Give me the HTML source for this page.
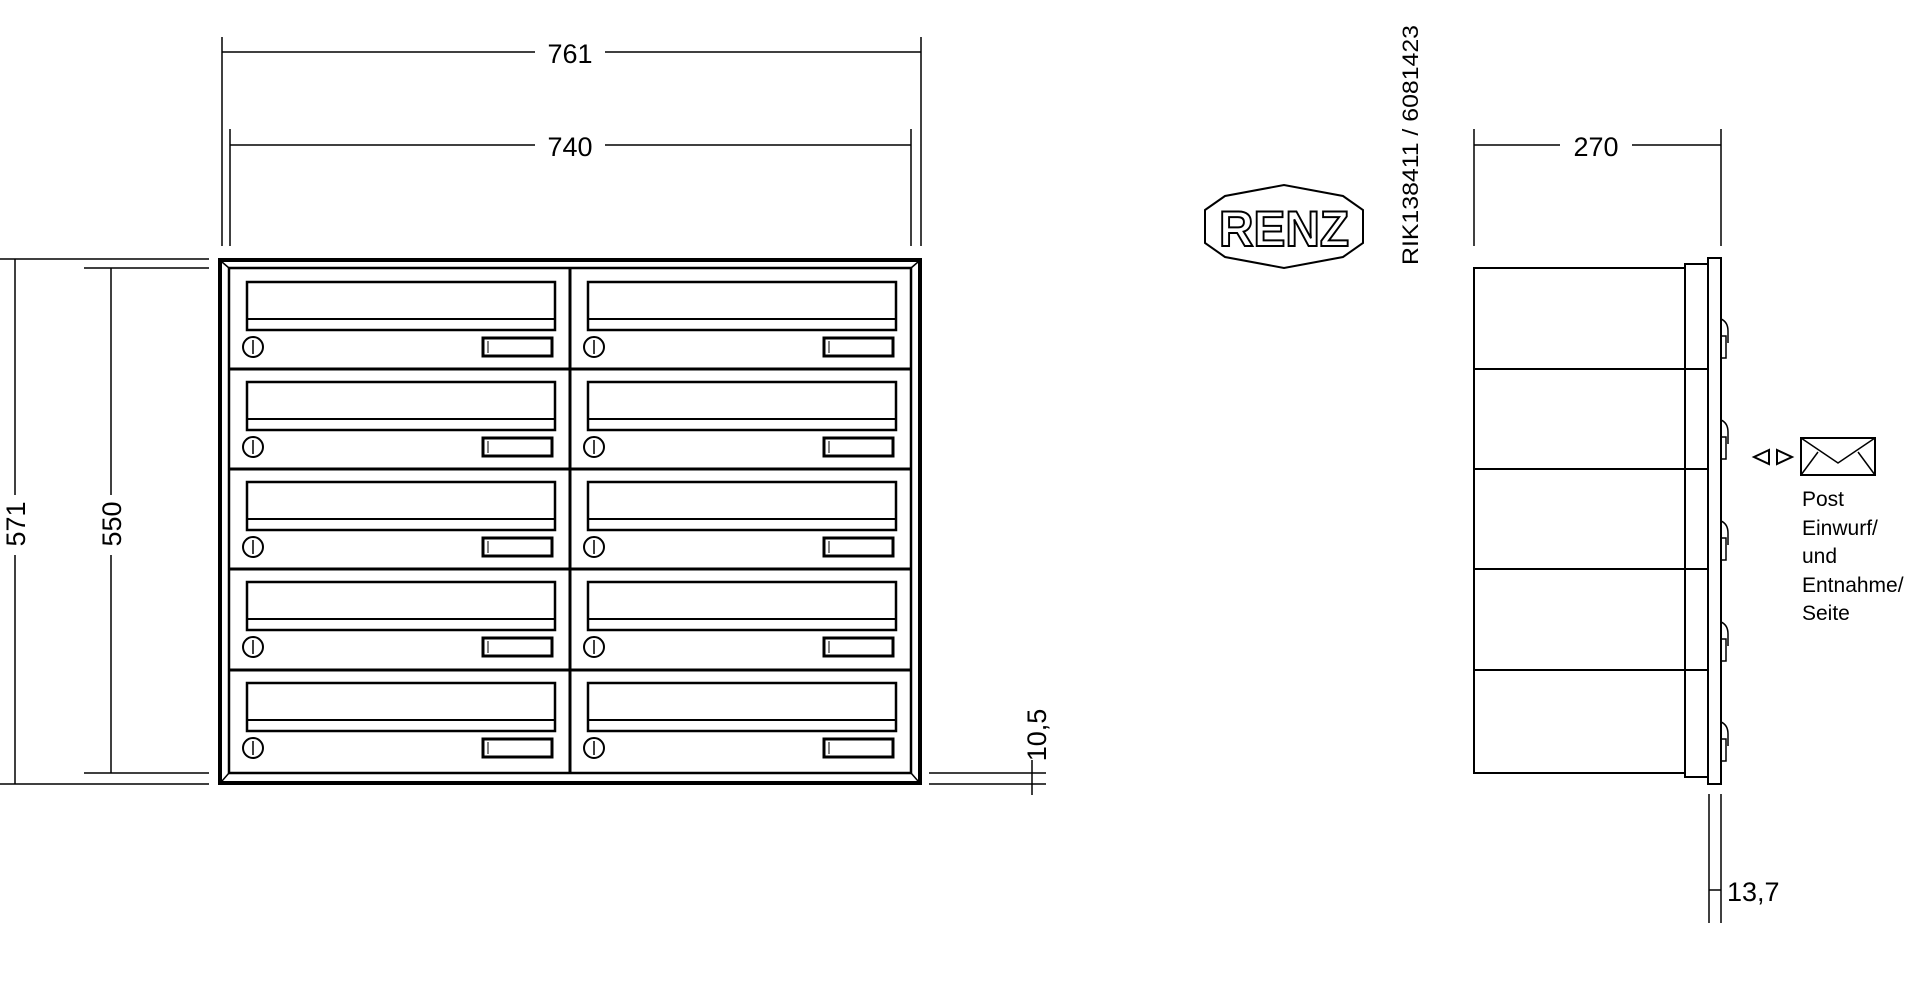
<!DOCTYPE html>
<html><head><meta charset="utf-8"><style>html,body{margin:0;padding:0;background:#fff}svg{display:block}</style></head><body>
<svg width="1930" height="990" viewBox="0 0 1930 990" xmlns="http://www.w3.org/2000/svg" font-family="Liberation Sans, sans-serif">
<g stroke="#000" fill="none" stroke-width="1.5">
<line x1="222" y1="37" x2="222" y2="246"/><line x1="921" y1="37" x2="921" y2="246"/>
<line x1="222" y1="52" x2="535" y2="52"/><line x1="605" y1="52" x2="921" y2="52"/>
<line x1="230" y1="129" x2="230" y2="246"/><line x1="911" y1="129" x2="911" y2="246"/>
<line x1="230" y1="145" x2="535" y2="145"/><line x1="605" y1="145" x2="911" y2="145"/>
<line x1="0" y1="259" x2="209" y2="259"/><line x1="0" y1="784" x2="209" y2="784"/>
<line x1="15" y1="259" x2="15" y2="495"/><line x1="15" y1="555" x2="15" y2="784"/>
<line x1="84" y1="268" x2="209" y2="268"/><line x1="84" y1="773" x2="209" y2="773"/>
<line x1="111" y1="268" x2="111" y2="495"/><line x1="111" y1="555" x2="111" y2="773"/>
<line x1="929" y1="773" x2="1046" y2="773"/><line x1="929" y1="784" x2="1046" y2="784"/>
<line x1="1032" y1="760" x2="1032" y2="795"/>
<line x1="1474" y1="129" x2="1474" y2="246"/><line x1="1721" y1="129" x2="1721" y2="246"/>
<line x1="1474" y1="145" x2="1560" y2="145"/><line x1="1632" y1="145" x2="1721" y2="145"/>
<line x1="1709" y1="794" x2="1709" y2="923"/><line x1="1721" y1="794" x2="1721" y2="923"/>
<line x1="1709" y1="890" x2="1721" y2="890"/>
</g>
<g fill="#000" font-size="27">
<text x="570" y="63" text-anchor="middle">761</text>
<text x="570" y="156" text-anchor="middle">740</text>
<text x="1596" y="156" text-anchor="middle">270</text>
<text transform="translate(25,524) rotate(-90)" text-anchor="middle">571</text>
<text transform="translate(121,524) rotate(-90)" text-anchor="middle">550</text>
<text transform="translate(1046,735) rotate(-90)" text-anchor="middle">10,5</text>
<text x="1727" y="901">13,7</text>
<text transform="translate(1418,145) rotate(-90)" text-anchor="middle" font-size="22" textLength="240" lengthAdjust="spacingAndGlyphs">RIK138411 / 6081423</text>
</g>
<g stroke="#000" fill="none">
<rect x="220" y="260" width="700" height="523" stroke-width="4"/>
<rect x="229" y="268" width="682" height="505" stroke-width="2.5"/>
<line x1="222" y1="262" x2="229" y2="268" stroke-width="1.5"/><line x1="918" y1="262" x2="911" y2="268" stroke-width="1.5"/>
<line x1="222" y1="781" x2="229" y2="773" stroke-width="1.5"/><line x1="918" y1="781" x2="911" y2="773" stroke-width="1.5"/>
<line x1="570" y1="268" x2="570" y2="773" stroke-width="3"/>
<line x1="229" y1="369" x2="911" y2="369" stroke-width="3"/>
<line x1="229" y1="469" x2="911" y2="469" stroke-width="3"/>
<line x1="229" y1="569" x2="911" y2="569" stroke-width="3"/>
<line x1="229" y1="670" x2="911" y2="670" stroke-width="3"/>
</g>
<defs>
<g id="m" stroke="#000" fill="none">
<rect x="18" y="13" width="308" height="48" stroke-width="2.5"/>
<line x1="18" y1="50" x2="326" y2="50" stroke-width="2"/>
<circle cx="24" cy="78" r="10" stroke-width="2"/>
<line x1="24" y1="71" x2="24" y2="85" stroke-width="1.5"/>
<rect x="254" y="69" width="69" height="18" stroke-width="3"/>
<line x1="259" y1="72" x2="259" y2="84" stroke-width="1"/>
</g>
</defs>
<use href="#m" x="229" y="269"/><use href="#m" x="570" y="269"/>
<use href="#m" x="229" y="369"/><use href="#m" x="570" y="369"/>
<use href="#m" x="229" y="469"/><use href="#m" x="570" y="469"/>
<use href="#m" x="229" y="569"/><use href="#m" x="570" y="569"/>
<use href="#m" x="229" y="670"/><use href="#m" x="570" y="670"/>
<polygon points="1205,210 1225,196 1284,185 1343,196 1363,210 1363,243 1343,257 1284,268 1225,257 1205,243" fill="none" stroke="#000" stroke-width="2"/>
<text x="1284" y="246" text-anchor="middle" font-size="50" font-weight="bold" fill="#fff" stroke="#000" stroke-width="2" textLength="130" lengthAdjust="spacingAndGlyphs">RENZ</text>
<g stroke="#000" fill="none" stroke-width="2">
<rect x="1474" y="268" width="211" height="505"/>
<line x1="1474" y1="369" x2="1708" y2="369"/>
<line x1="1474" y1="469" x2="1708" y2="469"/>
<line x1="1474" y1="569" x2="1708" y2="569"/>
<line x1="1474" y1="670" x2="1708" y2="670"/>
<polyline points="1685,268 1685,264 1708,264"/>
<polyline points="1685,773 1685,777 1708,777"/>
<rect x="1708" y="258" width="13" height="526"/>
<g stroke-width="1.5">
<path d="M1721,319 q7,3 7,12 v12"/><rect x="1721" y="336" width="5" height="22"/>
<path d="M1721,420 q7,3 7,12 v12"/><rect x="1721" y="437" width="5" height="22"/>
<path d="M1721,521 q7,3 7,12 v12"/><rect x="1721" y="538" width="5" height="22"/>
<path d="M1721,622 q7,3 7,12 v12"/><rect x="1721" y="639" width="5" height="22"/>
<path d="M1721,722 q7,3 7,12 v12"/><rect x="1721" y="739" width="5" height="22"/>
</g>
</g>
<g stroke="#000" fill="none" stroke-width="2">
<polygon points="1769,450 1754,457 1769,464"/>
<polygon points="1777,450 1792,457 1777,464"/>
<rect x="1801" y="438" width="74" height="37"/>
<polyline points="1801,438 1838,463 1875,438" stroke-width="1.5"/>
<line x1="1801" y1="475" x2="1818" y2="452" stroke-width="1.5"/>
<line x1="1875" y1="475" x2="1858" y2="452" stroke-width="1.5"/>
</g>
<g font-size="21" fill="#000">
<text x="1802" y="506">Post</text>
<text x="1802" y="535">Einwurf/</text>
<text x="1802" y="563">und</text>
<text x="1802" y="592">Entnahme/</text>
<text x="1802" y="620">Seite</text>
</g>
</svg>
</body></html>
